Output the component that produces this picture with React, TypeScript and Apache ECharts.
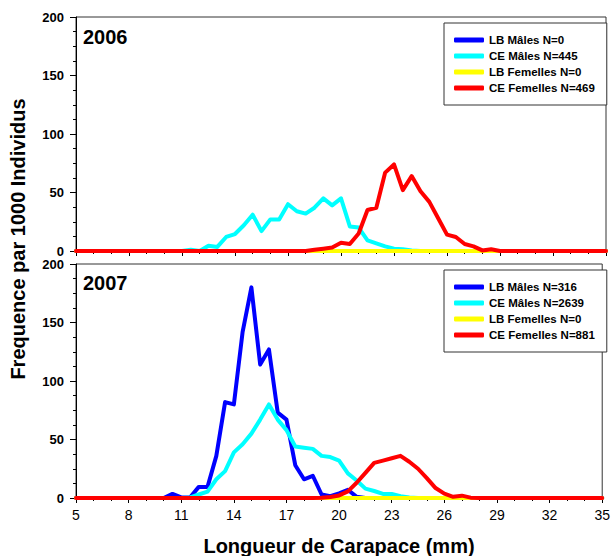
import React, { useEffect, useRef } from "react";
import * as echarts from "echarts";

const FONT = 'Arial, "Liberation Sans", Helvetica, sans-serif';

// Carapace length (mm), 0.5 mm classes
const lengths = [
  5, 5.5, 6, 6.5, 7, 7.5, 8, 8.5, 9, 9.5, 10, 10.5, 11, 11.5, 12, 12.5, 13, 13.5, 14, 14.5,
  15, 15.5, 16, 16.5, 17, 17.5, 18, 18.5, 19, 19.5, 20, 20.5, 21, 21.5, 22, 22.5, 23, 23.5, 24, 24.5,
  25, 25.5, 26, 26.5, 27, 27.5, 28, 28.5, 29, 29.5, 30, 30.5, 31, 31.5, 32, 32.5, 33, 33.5, 34, 34.5, 35,
];

const xTicks = [5, 8, 11, 14, 17, 20, 23, 26, 29, 32, 35];
const yTicks = [0, 50, 100, 150, 200];

// 2006
const names2006 = ["LB Mâles N=0", "CE Mâles N=445", "LB Femelles N=0", "CE Femelles N=469"];
const lbMales2006 = [
  0, 0, 0, 0, 0, 0, 0, 0, 0, 0, 0, 0, 0, 0, 0, 0, 0, 0, 0, 0,
  0, 0, 0, 0, 0, 0, 0, 0, 0, 0, 0, 0, 0, 0, 0, 0, 0, 0, 0, 0,
  0, 0, 0, 0, 0, 0, 0, 0, 0, 0, 0, 0, 0, 0, 0, 0, 0, 0, 0, 0, 0,
];
const ceMales2006 = [
  0, 0, 0, 0, 0, 0, 0, 0, 0, 0, 0, 0,
  0, 1, 0, 4.5, 3.5, 12, 14.5, 22, 31, 17, 27, 27, 40, 34, 32, 37, 45, 39, 45, 21, 20, 9, 6.5, 4, 2, 1.5, 0.5,
  0, 0, 0, 0, 0, 0, 0, 0, 0, 0, 0, 0, 0, 0, 0, 0, 0, 0, 0, 0, 0, 0,
];
const lbFemelles2006 = [
  0, 0, 0, 0, 0, 0, 0, 0, 0, 0, 0, 0, 0, 0, 0, 0, 0, 0, 0, 0,
  0, 0, 0, 0, 0, 0, 0, 0, 0, 0, 0, 0, 0, 0, 0, 0, 0, 0, 0, 0,
  0, 0, 0, 0, 0, 0, 0, 0, 0, 0, 0, 0, 0, 0, 0, 0, 0, 0, 0, 0, 0,
];
const ceFemelles2006 = [
  0, 0, 0, 0, 0, 0, 0, 0, 0, 0, 0, 0, 0, 0, 0, 0, 0, 0, 0, 0, 0, 0, 0, 0, 0, 0, 0,
  1, 2, 3, 7, 6, 15, 35, 37, 67, 74, 52, 64, 51, 42, 28, 14, 12, 6, 4, 0.5, 1.5,
  0, 0, 0, 0, 0, 0, 0, 0, 0, 0, 0, 0, 0,
];

// 2007
const names2007 = ["LB Mâles N=316", "CE Mâles N=2639", "LB Femelles N=0", "CE Femelles N=881"];
const lbMales2007 = [
  0, 0, 0, 0, 0, 0, 0, 0, 0, 0, 0,
  3.5, 0.5, 0.5, 9.5, 9.5, 36, 82, 80, 142, 180, 114, 127, 73, 67, 28, 16, 19, 3, 1.5, 4, 7, 1,
  0, 0, 0, 0, 0, 0, 0, 0, 0, 0, 0, 0, 0, 0, 0, 0, 0, 0, 0, 0, 0, 0, 0, 0, 0, 0, 0, 0,
];
const ceMales2007 = [
  0, 0, 0, 0, 0, 0, 0, 0, 0, 0, 0, 0, 0,
  0.5, 3, 5.5, 16, 23, 39, 46, 55, 67, 80, 67, 58, 44, 43, 42, 36, 35, 32, 21, 15, 8, 6, 3.5, 3.5, 1.5, 0.5,
  0, 0, 0, 0, 0, 0, 0, 0, 0, 0, 0, 0, 0, 0, 0, 0, 0, 0, 0, 0, 0, 0,
];
const lbFemelles2007 = [
  0, 0, 0, 0, 0, 0, 0, 0, 0, 0, 0, 0, 0, 0, 0, 0, 0, 0, 0, 0,
  0, 0, 0, 0, 0, 0, 0, 0, 0, 0, 0, 0, 0, 0, 0, 0, 0, 0, 0, 0,
  0, 0, 0, 0, 0, 0, 0, 0, 0, 0, 0, 0, 0, 0, 0, 0, 0, 0, 0, 0, 0,
];
const ceFemelles2007 = [
  0, 0, 0, 0, 0, 0, 0, 0, 0, 0, 0, 0, 0, 0, 0, 0, 0, 0, 0, 0, 0, 0, 0, 0, 0, 0, 0, 0,
  0.3, 0.8, 2.2, 5.7, 13, 21.5, 30, 32, 34, 36, 31, 25, 17, 8.5, 3.7, 1, 2, 0.3,
  0, 0, 0, 0, 0, 0, 0, 0, 0, 0, 0, 0, 0, 0, 0,
];

const colors = ["#0000ff", "#00ffff", "#ffff00", "#ff0000"];

export default function App() {
  const ref = useRef<HTMLDivElement>(null);

  useEffect(() => {
    if (!ref.current) return;
    const chart = echarts.init(ref.current, null, { renderer: "svg" });

    const pairs = (vals: number[]) => lengths.map((x, i) => [x, vals[i]]);

    const groups = [
      { names: names2006, vals: [lbMales2006, ceMales2006, lbFemelles2006, ceFemelles2006] },
      { names: names2007, vals: [lbMales2007, ceMales2007, lbFemelles2007, ceFemelles2007] },
    ];

    const series: any[] = [];
    groups.forEach((g, gi) => {
      g.vals.forEach((v, si) => {
        series.push({
          type: "line",
          name: g.names[si],
          xAxisIndex: gi,
          yAxisIndex: gi,
          data: pairs(v),
          symbol: "none",
          color: colors[si],
          lineStyle: { color: colors[si], width: 4, join: "round", cap: "round" },
          z: 2 + si,
          silent: true,
        });
      });
    });

    const tops = [17, 264];

    const option: any = {
      animation: false,
      backgroundColor: "#ffffff",
      textStyle: { fontFamily: FONT },
      grid: tops.map((t) => ({
        left: 76,
        top: t,
        width: 530,
        height: 234,
        show: true,
        borderColor: "#333",
        borderWidth: 1,
        backgroundColor: "transparent",
        containLabel: false,
      })),
      xAxis: [0, 1].map((i) => ({
        type: "value",
        gridIndex: i,
        min: xTicks[0],
        max: xTicks[xTicks.length - 1],
        interval: xTicks[1] - xTicks[0],
        axisLine: { show: true, onZero: false, lineStyle: { color: "#000", width: 1 } },
        axisTick: { show: true, length: 5, lineStyle: { color: "#000", width: 1 } },
        minorTick: { show: true, splitNumber: 3, length: 3, lineStyle: { color: "#000", width: 1 } },
        splitLine: { show: false },
        axisLabel: {
          show: i === 1,
          fontSize: 14,
          color: "#000",
          margin: 10,
          fontFamily: FONT,
        },
      })),
      yAxis: [0, 1].map((i) => ({
        type: "value",
        gridIndex: i,
        min: yTicks[0],
        max: yTicks[yTicks.length - 1],
        interval: yTicks[1] - yTicks[0],
        axisLine: { show: true, onZero: false, lineStyle: { color: "#000", width: 1 } },
        axisTick: { show: true, length: 6, lineStyle: { color: "#000", width: 1 } },
        minorTick: { show: true, splitNumber: 4, length: 3, lineStyle: { color: "#000", width: 1 } },
        splitLine: { show: false },
        axisLabel: {
          fontSize: 13,
          fontWeight: "bold",
          color: "#000",
          margin: 12,
          fontFamily: FONT,
        },
      })),
      legend: groups.map((g, gi) => ({
        data: g.names,
        orient: "vertical",
        left: 444,
        top: gi === 0 ? 23 : 270,
        padding: [10, 12, 10, 10],
        itemGap: 2,
        itemWidth: 30,
        itemHeight: 5,
        icon: "roundRect",
        backgroundColor: "#ffffff",
        borderColor: "#333",
        borderWidth: 1,
        borderRadius: 0,
        selectedMode: false,
        textStyle: {
          fontSize: 11.5,
          fontWeight: "bold",
          color: "#000",
          fontFamily: FONT,
          lineHeight: 14,
          padding: [0, 0, 0, 0],
        },
        z: 10,
      })),
      graphic: [
        {
          type: "text",
          left: 83,
          top: 27,
          style: { text: "2006", fontSize: 20, fontWeight: "bold", fontFamily: FONT, fill: "#000" },
          z: 10,
        },
        {
          type: "text",
          left: 83,
          top: 273,
          style: { text: "2007", fontSize: 20, fontWeight: "bold", fontFamily: FONT, fill: "#000" },
          z: 10,
        },
        {
          type: "text",
          x: 18,
          y: 239,
          rotation: Math.PI / 2,
          style: {
            text: "Frequence par 1000 Individus",
            fontSize: 20,
            fontWeight: "bold",
            fontFamily: FONT,
            fill: "#000",
            align: "center",
            verticalAlign: "middle",
          },
        },
        {
          type: "text",
          x: 339,
          y: 546,
          style: {
            text: "Longueur de Carapace (mm)",
            fontSize: 20,
            fontWeight: "bold",
            fontFamily: FONT,
            fill: "#000",
            align: "center",
            verticalAlign: "middle",
          },
        },
      ],
      series,
    };

    chart.setOption(option);
    return () => chart.dispose();
  }, []);

  return (
    <div
      ref={ref}
      style={{ position: "absolute", left: 0, top: 0, width: 613, height: 556 }}
    />
  );
}
